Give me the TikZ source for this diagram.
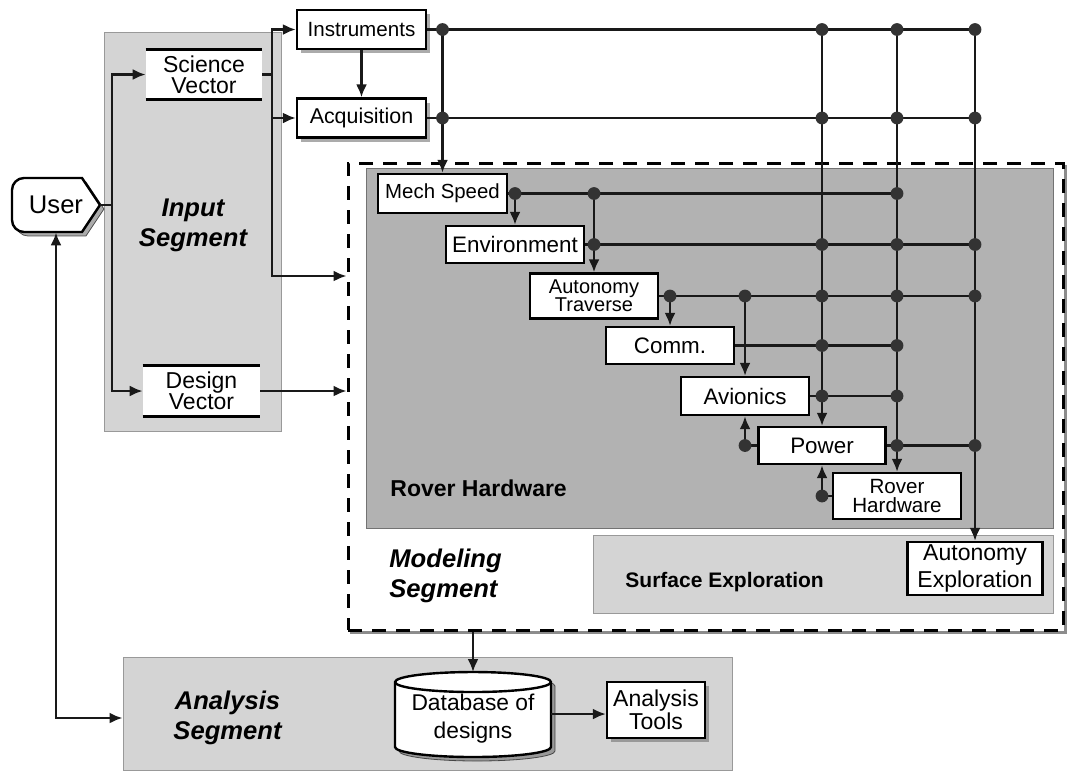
\documentclass[tikz,border=0pt]{standalone}
\usepackage{fontspec}
\setmainfont{Liberation Sans}
\usepackage{tikz}
\usetikzlibrary{arrows.meta,shadows}

\begin{document}
\begin{tikzpicture}[
  x=0.5pt,
  y=-0.5pt,
  >={Latex[length=6.5pt,width=5.5pt]},
  every node/.style={inner sep=0pt,font=\fontsize{11.2}{11}\selectfont},
  wire/.style={draw=black!90,line width=1.15pt},
  arrowwire/.style={wire,->},
  block/.style={draw=black,line width=1.2pt,fill=white,align=center},
  shadowblock/.style={
    block,
    drop shadow={shadow xshift=2pt,shadow yshift=-2pt,fill=black!55,opacity=0.6}
  },
  vecbox/.style={fill=white,align=center,font=\fontsize{11.5}{10.5}\selectfont},
  segbox/.style={draw=black!40,line width=0.5pt,fill=black!17},
  roverbox/.style={draw=black!55,line width=0.5pt,fill=black!30},
  modelbox/.style={draw=black,fill=white,line width=1.5pt,dash pattern=on 7pt off 5pt},
  junction/.style={fill=black!80},
  seglabel/.style={font=\fontsize{12.8}{15}\selectfont\bfseries\itshape,align=center},
  arealabel/.style={font=\fontsize{11}{12}\selectfont\bfseries,anchor=west}
]
\useasboundingbox (0,0) rectangle (1068,773);

% Segment areas.
\node[segbox,minimum width=88.5pt,minimum height=199.5pt] (inseg) at (192.5,231.5) {};
\node[segbox,minimum width=304.5pt,minimum height=56.5pt] (anl) at (427.5,713.5) {};
\draw[black!45,line width=1.5pt] (1065,165) -- (1065,632) -- (350,632);
\node[modelbox,minimum width=357.5pt,minimum height=233.5pt] (model) at (705.5,396.5) {};
\node[roverbox,minimum width=343.5pt,minimum height=180pt] (rover) at (709.5,348) {};
\node[segbox,minimum width=230pt,minimum height=39pt] (surf) at (823,574) {};

\node[seglabel] (inlabel) at (193,225) {Input\\Segment};
\node[seglabel,align=left,anchor=west] (modlabel) at (389,575.5) {Modeling\\Segment};
\node[seglabel] (anllabel) at (227.5,717.5) {Analysis\\Segment};
\node[arealabel,font=\fontsize{11.5}{12}\selectfont\bfseries] (roverlabel) at (390,488) {Rover Hardware};
\node[arealabel,font=\fontsize{10.5}{12}\selectfont\bfseries] (surflabel) at (625,582) {Surface Exploration};

% User terminal.
\draw[fill=black!55,opacity=0.6,xshift=2pt,yshift=-2pt]
  (100,205) -- (82,232) -- (40,232) [rounded corners=6pt] -- (12,232)
  -- (12,178) -- (40,178) [sharp corners] -- (82,178) -- cycle;
\draw[fill=white,line width=1.2pt]
  (100,205) -- (82,232) -- (40,232) [rounded corners=6pt] -- (12,232)
  -- (12,178) -- (40,178) [sharp corners] -- (82,178) -- cycle;
\node[minimum width=44pt,minimum height=27pt,font=\fontsize{12.8}{13}\selectfont] (user) at (56,205) {User};

% Input vectors.
\node[vecbox,minimum width=58pt,minimum height=24.5pt] (sv) at (204,74.5) {Science\\Vector};
\node[vecbox,minimum width=58.5pt,minimum height=25pt] (dv) at (201.5,391) {Design\\Vector};
\foreach \v in {sv,dv}
  \draw[line width=1.2pt] (\v.north west) -- (\v.north east)
    (\v.south west) -- (\v.south east);

% Instrument blocks.
\node[shadowblock,minimum width=64.5pt,minimum height=19.5pt,font=\fontsize{10.3}{11}\selectfont] (instr) at (361.5,29.5) {Instruments};
\node[shadowblock,minimum width=64.5pt,minimum height=19.5pt,font=\fontsize{10.7}{11}\selectfont] (acq) at (361.5,118) {Acquisition};

% Rover hardware cascade.
\node[block,minimum width=64.5pt,minimum height=19.5pt,font=\fontsize{10.2}{11}\selectfont] (ms) at (442.5,193.5) {Mech Speed};
\node[block,minimum width=69pt,minimum height=18.5pt] (env) at (515,244.5) {Environment};
\node[block,minimum width=64pt,minimum height=22.5pt,font=\fontsize{10}{9}\selectfont] (at) at (594,296) {Autonomy\\Traverse};
\node[block,minimum width=64pt,minimum height=18.5pt] (comm) at (670,345.5) {Comm.};
\node[block,minimum width=64pt,minimum height=19pt] (av) at (745,396) {Avionics};
\node[block,minimum width=63.5pt,minimum height=18.5pt] (pw) at (822,445.5) {Power};
\node[block,minimum width=64pt,minimum height=23pt,font=\fontsize{10.3}{9.5}\selectfont] (rh) at (897,496) {Rover\\Hardware};
\node[block,minimum width=67.5pt,minimum height=26.5pt,font=\fontsize{11.5}{13.5}\selectfont] (ae) at (975,568.5) {Autonomy\\Exploration};

% Database and analysis tools.
\draw[fill=black!55,opacity=0.6,xshift=2pt,yshift=-2pt]
  (395,682) -- (395,747) arc[start angle=180,end angle=0,x radius=78,y radius=10]
  -- (551,682) arc[start angle=0,end angle=-180,x radius=78,y radius=10] -- cycle;
\draw[fill=white,line width=1.2pt]
  (395,682) -- (395,747) arc[start angle=180,end angle=0,x radius=78,y radius=10]
  -- (551,682) arc[start angle=0,end angle=-180,x radius=78,y radius=10] -- cycle;
\draw[line width=1.2pt] (395,682) arc[start angle=180,end angle=0,x radius=78,y radius=10];
\node[minimum width=78pt,minimum height=42.5pt,align=center,font=\fontsize{11.4}{14}\selectfont] (db) at (473,719) {Database of\\designs};
\node[shadowblock,minimum width=49pt,minimum height=28pt,font=\fontsize{11.5}{10}\selectfont] (tools) at (656,710) {Analysis\\Tools};

% Input wiring.
\coordinate (usplit) at (112,205);
\coordinate (svsplit) at (272,74.5);
\draw[wire] (user.east) -- (usplit);
\draw[arrowwire] (usplit) |- (sv.west);
\draw[arrowwire] (usplit) |- (dv.west);
\draw[wire] (sv.east) -- (svsplit);
\draw[arrowwire] (svsplit) |- (instr.west);
\draw[arrowwire] (svsplit) |- (acq.west);
\draw[arrowwire] (svsplit) |- (model.west |- 0,276);
\draw[arrowwire] (dv.east) -- (model.west |- dv.east);
\draw[arrowwire] (instr) -- (acq);

% Buses.
\foreach \src/\dst in {instr/ae,acq/ae,ms/rh,env/ae,at/ae,comm/rh,av/rh,pw/ae}
  \draw[wire] (\src.east) -- (\dst |- \src.east);
\foreach \from/\to in {instr/ms,ms/env,ms/at,at/comm,at/av,instr/pw,instr/rh,instr/ae}
  \draw[arrowwire] (\to |- \from.east) -- (\to.north);
\draw[wire] (pw.west) -- (av |- pw.west);
\draw[arrowwire] (av |- pw.west) -- (av.south);
\draw[wire] (rh.west) -- (pw |- rh.west);
\draw[arrowwire] (pw |- rh.west) -- (pw.south);

% Junctions.
\foreach \c/\r in {ms/instr,pw/instr,rh/instr,ae/instr,ms/acq,pw/acq,rh/acq,ae/acq,
    env/ms,at/ms,rh/ms,at/env,pw/env,rh/env,ae/env,comm/at,av/at,pw/at,rh/at,ae/at,
    pw/comm,rh/comm,pw/av,rh/av,rh/pw,ae/pw,av/pw,pw/rh}
  \fill[junction] (\c |- \r.east) circle (3.2pt);

% Output wiring.
\draw[arrowwire] (model.south -| db) -- (473,672);
\draw[arrowwire] (db.east |- 0,714) -- (tools.west |- 0,714);
\draw[wire,<->] (user.south) |- (anl.west |- 0,718);

\end{tikzpicture}
\end{document}
